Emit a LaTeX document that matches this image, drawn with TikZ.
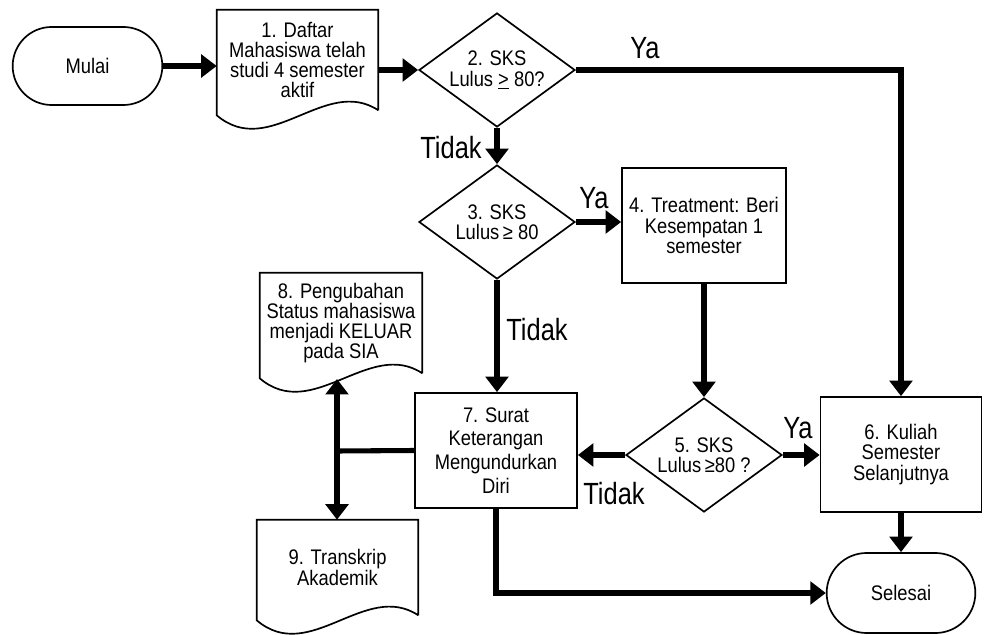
\documentclass[tikz,border=0pt]{standalone}
\usepackage{fontspec}
\setmainfont{Liberation Sans}[FakeStretch=0.87]
\newfontfamily\lblfont{Liberation Sans}[FakeStretch=0.83]
\usetikzlibrary{shapes.geometric,shapes.misc,arrows.meta}

% document outline round a named node: wavy bottom edge
\newcommand\docshape[1]{%
  \draw[boxline] (#1.south east) -- (#1.north east) -- (#1.north west) -- ([shift={(0,5)}]#1.south west)
    .. controls ([shift={(53,50)}]#1.south west) and ([shift={(-53,-35)}]#1.south east) .. (#1.south east);}

\begin{document}
\begin{tikzpicture}[x=0.025cm, y=-0.025cm,
    every node/.style={font=\fontsize{15}{14.3}\selectfont},
    boxline/.style={line width=1.2pt},
    term/.style={rounded rectangle, draw, boxline, minimum width=3.975cm, minimum height=1.95cm},
    proc/.style={rectangle, draw, boxline, align=center, inner sep=1pt, minimum width=4.05cm, minimum height=2.875cm},
    cond/.style={diamond, draw, boxline, aspect=1.37, inner sep=0pt, align=center, minimum width=3.9cm, minimum height=2.85cm},
    doctext/.style={rectangle, align=center, inner sep=0pt},
    link/.style={line width=3.6pt},
    flow/.style={link, -{Triangle[length=11pt,width=16pt]}},
    twoway/.style={link, {Triangle[length=11pt,width=16pt]}-{Triangle[length=11pt,width=16pt]}},
    lbl/.style={font=\lblfont\fontsize{21.8}{21.8}\selectfont}]
  \useasboundingbox (0,0) rectangle (985,635);
  % Start and end
  \node[term] (mulai) at (87.5,66) {Mulai};
  \node[term, minimum width=3.95cm, minimum height=2cm] (selesai) at (901,593) {Selesai};
  % Documents
  \node[doctext, minimum width=4.025cm, minimum height=2.5cm] (daftar) at (297.5,60)
    {1. Daftar\\Mahasiswa telah\\studi 4 semester\\aktif};
  \node[doctext, minimum width=4.05cm, minimum height=2.5cm] (ubah) at (341,323)
    {8. Pengubahan\\Status mahasiswa\\menjadi KELUAR\\pada SIA};
  \node[doctext, minimum width=4.025cm, minimum height=2.375cm] (transkrip) at (337.5,567.5)
    {9. Transkrip\\Akademik};
  \docshape{daftar}
  \docshape{ubah}
  \docshape{transkrip}
  % Decisions
  \node[cond] (cek2) at (497,70) {2. SKS\\Lulus \underline{>} 80?};
  \node[cond] (cek3) at (497,222) {3. SKS\\Lulus\,≥ 80};
  \node[cond] (cek5) at (704,455) {5. SKS\\Lulus\,≥80 ?};
  % Processes
  \node[proc, minimum width=4.1cm] (treat) at (704,225.5) {4. Treatment: Beri\\Kesempatan 1\\semester};
  \node[proc, minimum width=4.025cm] (kuliah) at (901,454.5) {6. Kuliah\\Semester\\Selanjutnya};
  \node[proc, font=\fontsize{15}{17}\selectfont] (surat) at (496,450.5)
    {7. Surat\\Keterangan\\Mengundurkan\\Diri};
  % Branch points
  \coordinate (cabang) at (337,451);
  \coordinate (ujung8) at (337,379);
  % Arrows
  \draw[flow] (mulai.east) -- (mulai.east -| daftar.west);
  \draw[flow] (cek2.west -| daftar.east) -- (cek2.west);
  \draw[flow] (cek2.east) -| (kuliah.north);
  \draw[flow] (cek2.south) -- (cek3.north);
  \draw[flow] (cek3.east) -- (cek3.east -| treat.west);
  \draw[flow] (cek3.south) -- (cek3.south |- surat.north);
  \draw[flow] (treat.south) -- (cek5.north);
  \draw[flow] (cek5.east) -- (cek5.east -| kuliah.west);
  \draw[flow] (cek5.west) -- (cek5.west -| surat.east);
  \draw[flow] (kuliah.south) -- (selesai.north);
  \draw[flow] (surat.south) |- (selesai.west);
  \draw[link] (surat.west) -- (cabang);
  \draw[twoway] (ujung8) -- (cabang |- transkrip.north);
  % Branch labels
  \node[lbl] (ya2) at (645,48) {Ya};
  \node[lbl] (tidak2) at (451,148) {Tidak};
  \node[lbl] (ya3) at (594,198) {Ya};
  \node[lbl] (tidak3) at (537,330) {Tidak};
  \node[lbl] (ya5) at (798,428) {Ya};
  \node[lbl] (tidak5) at (614,494) {Tidak};
\end{tikzpicture}
\end{document}
